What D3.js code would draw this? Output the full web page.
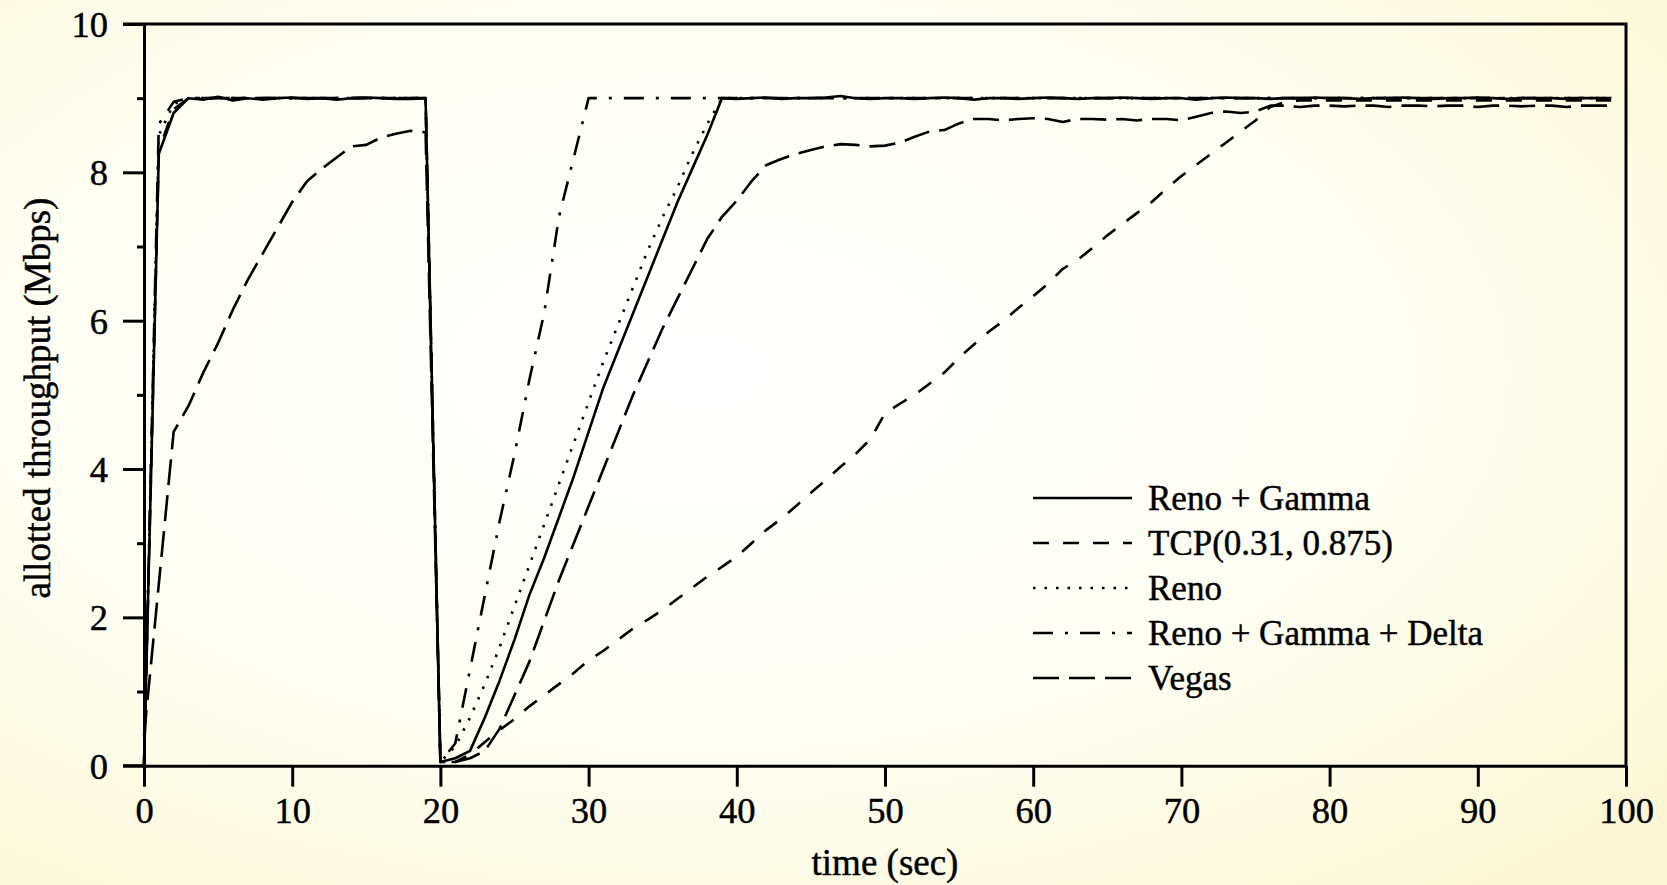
<!DOCTYPE html>
<html>
<head>
<meta charset="utf-8">
<script src="https://cdn.jsdelivr.net/npm/d3@7"></script>
<style>
  html, body { margin: 0; padding: 0; }
  body { width: 1667px; height: 885px; overflow: hidden; }
  svg { display: block; }
  text { font-family: "Liberation Serif", "Times New Roman", serif; fill: #000; stroke: #000; stroke-width: 0.45px; }
</style>
</head>
<body>
<svg id="chart" width="1667" height="885"></svg>
<script>
// ---------- data ----------
const time = [0,1,2,3,4,5,6,7,8,9,10,11,12,13,14,15,16,17,18,19,
  20,21,22,23,24,25,26,27,28,29,30,31,32,33,34,35,36,37,38,39,
  40,41,42,43,44,45,46,47,48,49,50,51,52,53,54,55,56,57,58,59,
  60,61,62,63,64,65,66,67,68,69,70,71,72,73,74,75,76,77,78,79,
  80,81,82,83,84,85,86,87,88,89,90,91,92,93,94,95,96,97,98,99];

const renoGamma = [0,8.25,8.8,9.0,8.98,9.02,8.97,9.0,8.98,9.0,
  9.01,8.99,9.0,8.98,9.0,9.01,9.0,8.99,8.99,9.0,
  0.05,0.1,0.2,0.65,1.15,1.7,2.3,2.8,3.35,3.9,
  4.5,5.1,5.6,6.1,6.6,7.1,7.6,8.05,8.5,9.0,
  8.99,9.0,9.01,8.99,9.0,9.0,9.01,9.03,9.0,8.99,
  9.0,9.0,8.99,9.0,9.01,9.0,8.98,9.0,9.0,8.99,
  9.0,9.01,9.0,8.99,9.0,9.0,9.01,9.0,8.99,9.0,
  9.0,8.98,9.0,9.01,9.0,9.0,8.99,9.0,9.0,9.01,
  9.0,9.0,8.99,9.0,9.0,9.01,9.0,8.99,9.0,9.0,
  9.01,9.0,8.99,9.0,9.0,9.0,8.99,9.0,9.0,9.0];

const tcp = [0,8.3,8.85,9.0,9.0,9.0,9.0,9.0,9.0,9.0,
  9.0,9.0,9.0,9.0,9.0,9.0,9.0,9.0,9.0,9.0,
  0.05,0.05,0.15,0.32,0.48,0.63,0.8,0.95,1.1,1.25,
  1.42,1.55,1.7,1.85,1.97,2.1,2.25,2.4,2.55,2.68,
  2.82,3.0,3.18,3.33,3.5,3.68,3.85,4.03,4.2,4.4,
  4.75,4.88,5.0,5.15,5.3,5.5,5.68,5.85,6.0,6.17,
  6.33,6.5,6.7,6.82,6.98,7.15,7.3,7.45,7.6,7.78,
  7.95,8.1,8.25,8.4,8.55,8.7,8.88,8.95,8.97,8.97,
  8.97,8.97,8.97,8.97,8.97,8.97,8.97,8.97,8.97,8.97,
  8.97,8.97,8.97,8.97,8.97,8.97,8.97,8.97,8.97,8.97];

const reno = [0,8.5,8.92,9.0,9.0,9.0,9.0,9.0,9.0,9.0,
  9.0,9.0,9.0,9.0,9.0,9.0,9.0,9.0,9.0,9.0,
  0.05,0.26,0.65,1.1,1.6,2.15,2.7,3.25,3.8,4.35,
  4.9,5.45,5.95,6.45,6.95,7.4,7.8,8.25,8.65,9.0,
  9.0,9.0,9.0,9.0,9.0,9.0,9.0,9.0,9.0,9.0,
  9.0,9.0,9.0,9.0,9.0,9.0,9.0,9.0,9.0,9.0,
  9.0,9.0,9.0,9.0,9.0,9.0,9.0,9.0,9.0,9.0,
  9.0,9.0,9.0,9.0,9.0,9.0,9.0,9.0,9.0,9.0,
  9.0,9.0,9.0,9.0,9.0,9.0,9.0,9.0,9.0,9.0,
  9.0,9.0,9.0,9.0,9.0,9.0,9.0,9.0,9.0,9.0];

const renoGammaDelta = [0,8.65,8.95,9.0,9.0,9.0,9.0,9.0,9.0,9.0,
  9.0,9.0,9.0,9.0,9.0,9.0,9.0,9.0,9.0,9.0,
  0.05,0.3,1.3,2.3,3.3,4.2,5.2,6.1,7.4,8.2,
  9.0,9.0,9.0,9.0,9.0,9.0,9.0,9.0,9.0,9.0,
  9.0,9.0,9.0,9.0,9.0,9.0,9.0,9.0,9.0,9.0,
  9.0,9.0,9.0,9.0,9.0,9.0,9.0,9.0,9.0,9.0,
  9.0,9.0,9.0,9.0,9.0,9.0,9.0,9.0,9.0,9.0,
  9.0,9.0,9.0,9.0,9.0,9.0,9.0,9.0,9.0,9.0,
  9.0,9.0,9.0,9.0,9.0,9.0,9.0,9.0,9.0,9.0,
  9.0,9.0,9.0,9.0,9.0,9.0,9.0,9.0,9.0,9.0];

const vegas = [0.4,2.45,4.5,4.85,5.3,5.7,6.15,6.55,6.9,7.25,
  7.6,7.88,8.05,8.2,8.35,8.37,8.47,8.52,8.56,8.54,
  0.05,0.05,0.1,0.2,0.5,0.95,1.4,1.95,2.5,3.0,
  3.5,4.0,4.5,5.0,5.45,5.9,6.3,6.7,7.1,7.4,
  7.62,7.88,8.1,8.18,8.25,8.3,8.35,8.38,8.37,8.35,
  8.36,8.4,8.48,8.55,8.57,8.66,8.72,8.72,8.7,8.72,
  8.73,8.72,8.68,8.72,8.72,8.71,8.72,8.7,8.72,8.72,
  8.7,8.75,8.8,8.82,8.8,8.82,8.9,8.9,8.88,8.9,
  8.9,8.89,8.9,8.9,8.88,8.9,8.9,8.89,8.9,8.9,
  8.88,8.9,8.9,8.89,8.9,8.9,8.88,8.9,8.9,8.9];

const seriesNames = ["Reno + Gamma", "TCP(0.31, 0.875)", "Reno", "Reno + Gamma + Delta", "Vegas"];
const seriesValues = [renoGamma, tcp, reno, renoGammaDelta, vegas];
const seriesDash = ["none", "16,14", "2.5,9", "20,12,3,12", "26,10"];

const xTicks = [0,10,20,30,40,50,60,70,80,90,100];
const yMajorTicks = [0,2,4,6,8,10];
const yMinorTicks = [1,3,5,7,9];
const xLabel = "time (sec)";
const yLabel = "allotted throughput (Mbps)";

(function draw() {
  const svg = d3.select("#chart");
  const W = 1667, H = 885;
  const pL = 144, pR = 1626, pT = 24, pB = 765.7;

  // background gradient
  const defs = svg.append("defs");
  const grad = defs.append("radialGradient").attr("id", "bg")
    .attr("cx", "42%").attr("cy", "42%").attr("r", "75%");
  grad.append("stop").attr("offset", "0%").attr("stop-color", "#ffffff");
  grad.append("stop").attr("offset", "55%").attr("stop-color", "#fefef3");
  grad.append("stop").attr("offset", "100%").attr("stop-color", "#fcf8d6");
  svg.append("rect").attr("width", W).attr("height", H).attr("fill", "url(#bg)");

  const x = d3.scaleLinear().domain([0, 100]).range([pL, pR]);
  const y = d3.scaleLinear().domain([0, 10]).range([pB, pT]);

  // lines
  const line = d3.line().x((d, i) => x(time[i])).y(d => y(d));
  const linesG = svg.append("g");
  seriesValues.map((vals, i) => ({vals, i})).reverse().forEach(({vals, i}) => {
    linesG.append("path")
      .attr("d", line(vals))
      .attr("fill", "none")
      .attr("stroke", "#000")
      .attr("stroke-width", 2.6)
      .attr("stroke-linejoin", "round")
      .attr("stroke-dasharray", seriesDash[i]);
  });

  // axes
  const axisW = 3;
  const xAxis = svg.append("g").attr("transform", `translate(0,${pB})`)
    .call(d3.axisBottom(x).tickValues(xTicks).tickSize(21).tickSizeOuter(0).tickFormat(d3.format("d")));
  xAxis.selectAll("text").attr("y", 57).attr("dy", 0).style("font-size", "36.5px");

  const yAxis = svg.append("g").attr("transform", `translate(${pL},0)`)
    .call(d3.axisLeft(y).tickValues(yMajorTicks).tickSize(21).tickSizeOuter(0).tickFormat(d3.format("d")));
  yAxis.selectAll("text").attr("x", -36).attr("dy", "0.34em").style("font-size", "36.5px");

  const yMinor = svg.append("g").attr("transform", `translate(${pL},0)`)
    .call(d3.axisLeft(y).tickValues(yMinorTicks).tickSize(7).tickSizeOuter(0).tickFormat(""));
  yMinor.select(".domain").remove();

  [xAxis, yAxis, yMinor].forEach(g => {
    g.selectAll("line").attr("stroke", "#000").attr("stroke-width", axisW);
    g.selectAll(".domain").attr("stroke", "#000").attr("stroke-width", axisW);
    g.selectAll("text").style("font-family", "'Liberation Serif', serif")
      .attr("fill", "#000").attr("stroke", "#000").attr("stroke-width", 0.45);
  });
  svg.append("path")
    .attr("d", `M${pL - 21},${pT}H${pR}V${pB}`)
    .attr("fill", "none").attr("stroke", "#000").attr("stroke-width", axisW);
  svg.append("line").attr("x1", pL - 21).attr("x2", pL).attr("y1", pB).attr("y2", pB)
    .attr("stroke", "#000").attr("stroke-width", axisW);

  // axis titles
  svg.append("text").attr("x", (pL + pR) / 2).attr("y", 875)
    .attr("text-anchor", "middle").style("font-size", "37px").text(xLabel);
  svg.append("text").attr("transform", `translate(50,398) rotate(-90)`)
    .attr("text-anchor", "middle").style("font-size", "37px").text(yLabel);

  // legend
  const legend = svg.append("g");
  const legY0 = 498, legDy = 45;
  seriesNames.forEach((name, i) => {
    const yy = legY0 + i * legDy;
    legend.append("line").attr("x1", 1033).attr("x2", 1132).attr("y1", yy).attr("y2", yy)
      .attr("stroke", "#000").attr("stroke-width", 2.6).attr("stroke-dasharray", seriesDash[i]);
    legend.append("text").attr("x", 1148).attr("y", yy + 12).style("font-size", "35px").text(name);
  });
})();
</script>
</body>
</html>
